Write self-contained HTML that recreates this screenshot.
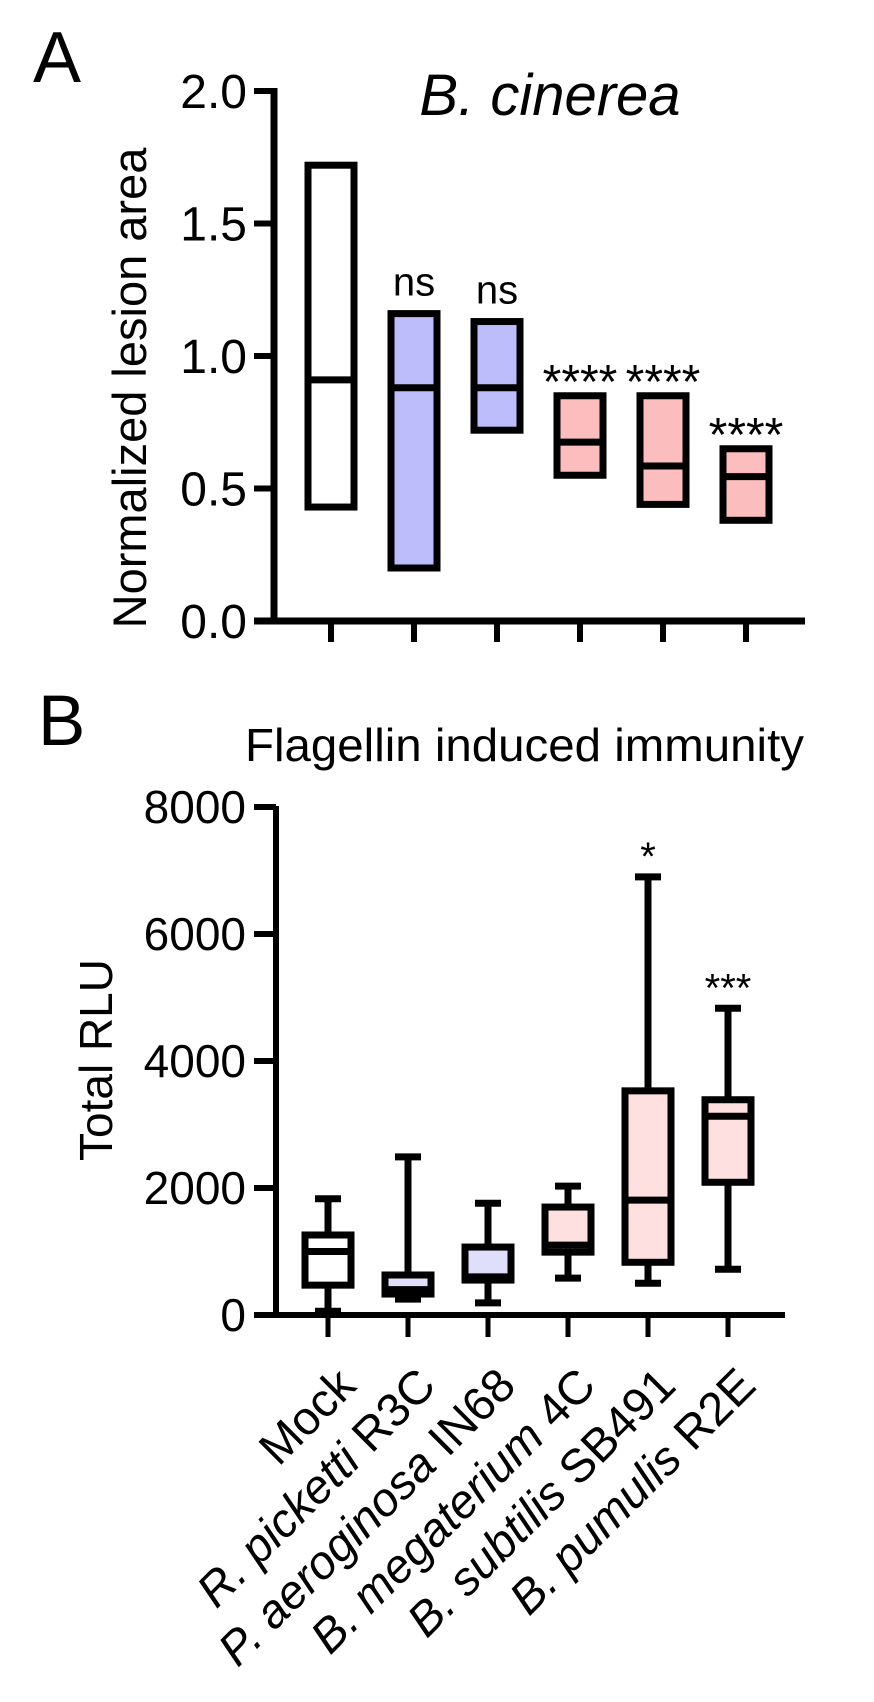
<!DOCTYPE html>
<html><head><meta charset="utf-8"><style>
body{margin:0;background:#fff;}
svg{display:block;font-family:"Liberation Sans",Arial,sans-serif;}
</style></head><body>
<svg id="fig" width="874" height="1702" viewBox="0 0 874 1702">
<text x="33" y="82" font-size="72">A</text>
<text x="550" y="115" font-size="58" font-style="italic" text-anchor="middle">B. cinerea</text>
<text transform="translate(146,388) rotate(-90)" font-size="47" text-anchor="middle">Normalized lesion area</text>
<text x="38" y="745" font-size="71">B</text>
<text x="245" y="761" font-size="46" textLength="559" lengthAdjust="spacingAndGlyphs">Flagellin induced immunity</text>
<text transform="translate(112,1060) rotate(-90)" font-size="46" text-anchor="middle">Total RLU</text>
<g id="ga"></g><g id="gb"></g>
</svg>
<script>
const categories=["Mock","R. picketti R3C","P. aeroginosa IN68","B. megaterium 4C","B. subtilis SB491","B. pumulis R2E"];
const genus=["","R. ","P. ","B. ","B. ","B. "];
const species=["Mock","picketti","aeroginosa","megaterium","subtilis","pumulis"];
const strain=[""," R3C"," IN68"," 4C"," SB491"," R2E"];
const aMin=[0.43,0.20,0.72,0.55,0.44,0.38];
const aMax=[1.72,1.16,1.13,0.85,0.85,0.65];
const aMed=[0.91,0.88,0.88,0.675,0.585,0.545];
const aSig=["","ns","ns","****","****","****"];
const aTicks=[0,0.5,1.0,1.5,2.0];
const bWLo=[60,250,190,580,500,720];
const bQ1=[470,330,550,990,830,2090];
const bMed=[1000,400,600,1100,1810,3130];
const bQ3=[1260,630,1070,1700,3530,3390];
const bWHi=[1830,2490,1760,2030,6900,4830];
const bSig=["","","","","*","***"];
const bTicks=[0,2000,4000,6000,8000];
const NS="http://www.w3.org/2000/svg";
const fillA=["#ffffff","#bdbdfb","#bdbdfb","#fbbdbd","#fbbdbd","#fbbdbd"];
const fillB=["#ffffff","#dfdffc","#dfdffc","#fee0e0","#fee0e0","#fee0e0"];
function el(p,t,a){const e=document.createElementNS(NS,t);for(const k in a)e.setAttribute(k,a[k]);p.appendChild(e);return e;}
const xA=i=>331+i*83;
const xB=i=>328+i*80;
const yA=v=>621-v*265;
const yB=v=>1315-v*0.0635;
const ga=document.getElementById('ga'), gb=document.getElementById('gb');
let ax=el(ga,'path',{d:'M274,88V624M254,621H805',stroke:'#000','stroke-width':7,fill:'none'});


aTicks.forEach(t=>{const y=yA(t);
 let tk=el(ga,'line',{x1:254,x2:274,y1:y,y2:y,stroke:'#000','stroke-width':6});
 
 
 let tl=el(ga,'text',{x:247,y:y+17,'font-size':48,'text-anchor':'end'});tl.textContent=t.toFixed(1);
 
 
});
categories.forEach((c,i)=>{const x=xA(i);
 let tk=el(ga,'line',{x1:x,x2:x,y1:621,y2:642,stroke:'#000','stroke-width':6});
 
 
 let r=el(ga,'rect',{x:x-23,y:yA(aMax[i]),width:46,height:yA(aMin[i])-yA(aMax[i]),fill:fillA[i],stroke:'#000','stroke-width':7});
 
 
 let m=el(ga,'line',{x1:x-23,x2:x+23,y1:yA(aMed[i]),y2:yA(aMed[i]),stroke:'#000','stroke-width':7});
 
 
 if(aSig[i]){const ns=aSig[i]=='ns';let s=el(ga,'text',{x:x,y:yA(aMax[i])-(ns?18:-2),'font-size':ns?40:48,'text-anchor':'middle'});s.textContent=aSig[i];
 
 }
});
let bx=el(gb,'path',{d:'M276,806V1318M254,1315H785',stroke:'#000','stroke-width':6,fill:'none'});


bTicks.forEach(t=>{const y=yB(t);
 let tk=el(gb,'line',{x1:254,x2:276,y1:y,y2:y,stroke:'#000','stroke-width':6});
 
 
 let tl=el(gb,'text',{x:246,y:y+16,'font-size':46,'text-anchor':'end'});tl.textContent=t;
 
 
});
categories.forEach((c,i)=>{const x=xB(i);
 let w=el(gb,'path',{d:`M${x},${yB(bWHi[i])}V${yB(bQ3[i])}M${x},${yB(bQ1[i])}V${yB(bWLo[i])}M${x-13},${yB(bWHi[i])}H${x+13}M${x-13},${yB(bWLo[i])}H${x+13}`,stroke:'#000','stroke-width':7,fill:'none'});
 
 
 let r=el(gb,'rect',{x:x-23,y:yB(bQ3[i]),width:46,height:yB(bQ1[i])-yB(bQ3[i]),fill:fillB[i],stroke:'#000','stroke-width':7});
 
 
 let m=el(gb,'line',{x1:x-23,x2:x+23,y1:yB(bMed[i]),y2:yB(bMed[i]),stroke:'#000','stroke-width':7});
 
 
 if(bSig[i]){let s=el(gb,'text',{x:x,y:yB(bWHi[i])-7,'font-size':40,'text-anchor':'middle'});s.textContent=bSig[i];
 
 }
 let tk=el(gb,'line',{x1:x,x2:x,y1:1315,y2:1337,stroke:'#000','stroke-width':5});
 
 
 let lab=el(gb,'text',{transform:`translate(${x+30},${1388}) rotate(-45)`,'font-size':47,'text-anchor':'end'});
 
 
 if(i==0){lab.textContent=c;}else{
  const t1=el(lab,'tspan',{'font-style':'italic'});t1.textContent=genus[i]+species[i];
  const t2=el(lab,'tspan',{});t2.textContent=strain[i];}
});
</script>
</body></html>
